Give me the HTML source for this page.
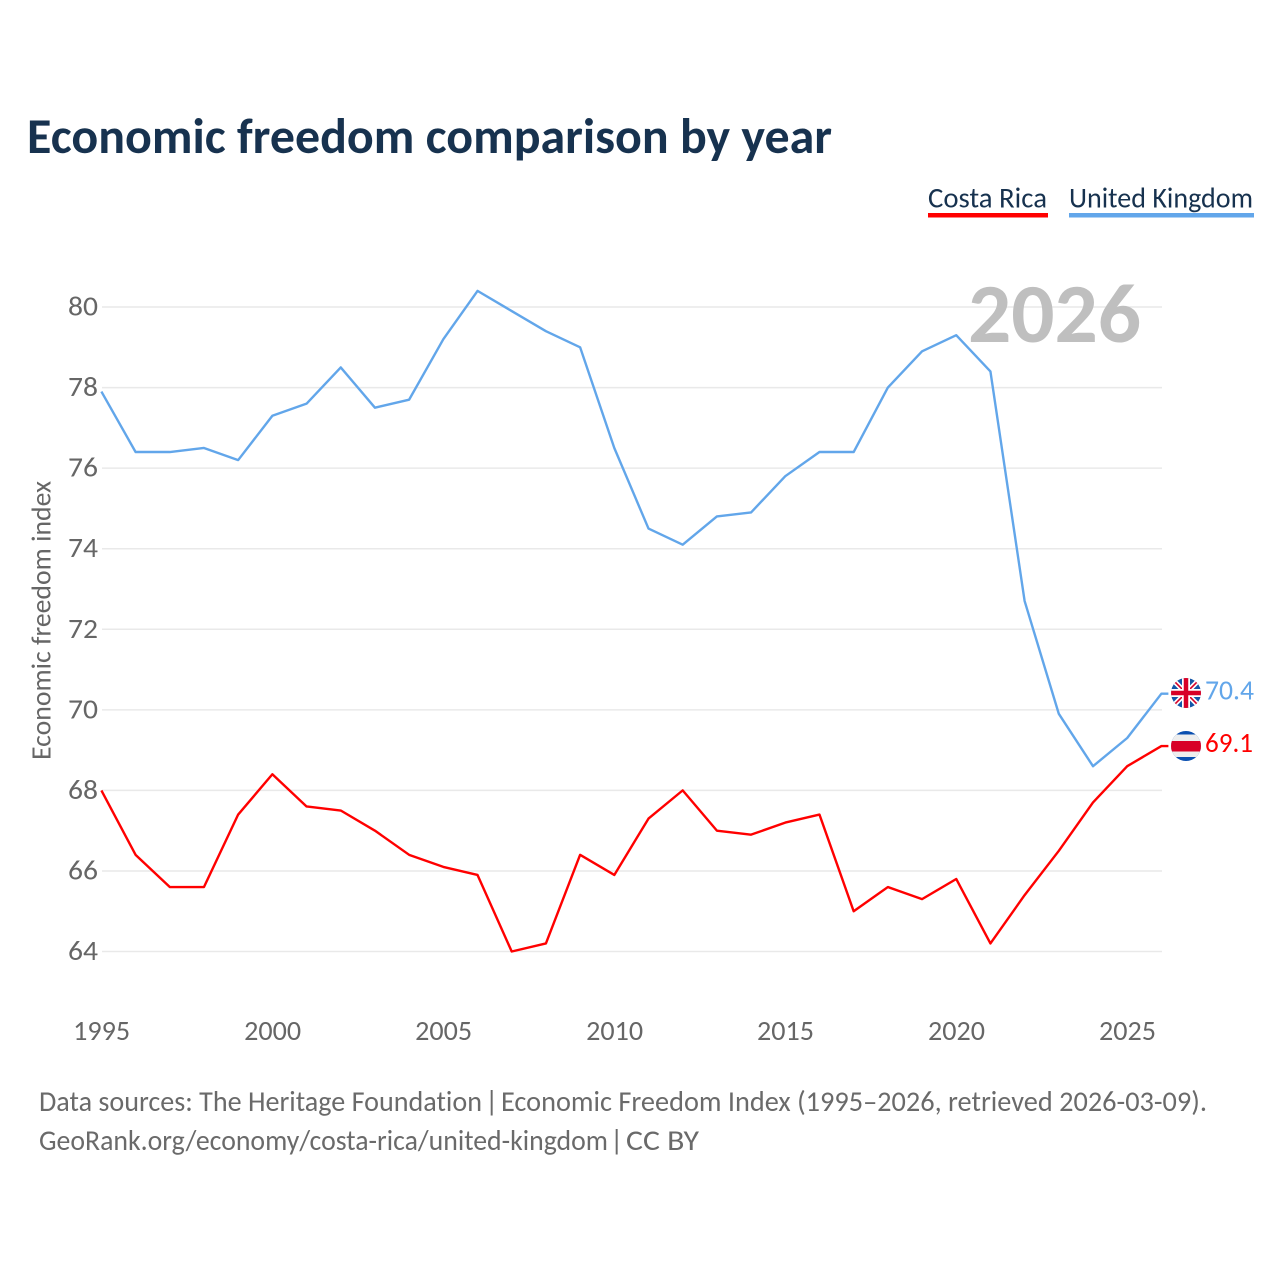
<!DOCTYPE html>
<html lang="en">
<head>
<meta charset="utf-8">
<title>Economic freedom comparison by year</title>
<style>
html,body{margin:0;padding:0;background:#fff;}
svg{display:block;font-family:"Carlito","Lato","Liberation Sans",sans-serif;font-variant-ligatures:none;}
</style>
</head>
<body>
<svg id="chart" xmlns="http://www.w3.org/2000/svg" width="1280" height="1280" viewBox="0 0 1280 1280">
  <defs>
    <clipPath id="flag-uk-clip"><circle cx="1186" cy="693" r="15"/></clipPath>
    <clipPath id="flag-cr-clip"><circle cx="1186" cy="746" r="15"/></clipPath>
  </defs>
  <rect width="1280" height="1280" fill="#ffffff"/>
  <text x="27" y="153" font-size="50" font-weight="700" fill="#17324f" textLength="805" lengthAdjust="spacingAndGlyphs">Economic freedom comparison by year</text>

  <g>
    <g>
      <text x="928" y="207.5" font-size="29" fill="#17324f" textLength="119" lengthAdjust="spacingAndGlyphs">Costa Rica</text>
      <rect x="928" y="213" width="120" height="4.5" fill="#ff0000"/>
    </g>
    <g>
      <text x="1069" y="207.5" font-size="29" fill="#17324f" textLength="184" lengthAdjust="spacingAndGlyphs">United Kingdom</text>
      <rect x="1069" y="213" width="185" height="4.5" fill="#62a6ea"/>
    </g>
  </g>

  <g id="grid"></g>
  <g id="y-ticks"></g>
  <g id="x-ticks"></g>

  <text x="968" y="342" font-size="84" font-weight="700" fill="#bfbfbf" textLength="173" lengthAdjust="spacingAndGlyphs">2026</text>
  <text transform="translate(50.5,760) rotate(-90)" x="0" y="0" font-size="28" fill="#666666" textLength="279" lengthAdjust="spacingAndGlyphs">Economic freedom index</text>

  <g id="series"></g>

  <g clip-path="url(#flag-uk-clip)">
    <rect x="1171" y="678" width="30" height="30" fill="#1456a8"/>
    <path d="M1171 678L1201 708M1201 678L1171 708" stroke="#ffffff" stroke-width="5"/>
    <path d="M1171 678L1201 708M1201 678L1171 708" stroke="#d80027" stroke-width="1.6"/>
    <path d="M1186 678V708M1171 693H1201" stroke="#ffffff" stroke-width="8"/>
    <path d="M1186 678V708M1171 693H1201" stroke="#d80027" stroke-width="4.5"/>
  </g>
  <g clip-path="url(#flag-cr-clip)">
    <rect x="1171" y="731" width="30" height="30" fill="#0a4fb0"/>
    <rect x="1171" y="734.5" width="30" height="22.5" fill="#eeeeee"/>
    <rect x="1171" y="741" width="30" height="10.5" fill="#d80027"/>
  </g>

  <g id="end-labels"></g>

  <g>
    <text x="39" y="1111" font-size="29" fill="#6a6a6a" textLength="443" lengthAdjust="spacingAndGlyphs">Data sources: The Heritage Foundation</text>
    <text x="491.7" y="1111" text-anchor="middle" font-size="29" fill="#6a6a6a">|</text>
    <text x="501" y="1111" font-size="29" fill="#6a6a6a" textLength="706" lengthAdjust="spacingAndGlyphs">Economic Freedom Index (1995–2026, retrieved 2026-03-09).</text>
    <text x="39" y="1150" font-size="29" fill="#6a6a6a" textLength="569" lengthAdjust="spacingAndGlyphs">GeoRank.org/economy/costa-rica/united-kingdom</text>
    <text x="616.7" y="1150" text-anchor="middle" font-size="29" fill="#6a6a6a">|</text>
    <text x="626" y="1150" font-size="29" fill="#6a6a6a" textLength="73" lengthAdjust="spacingAndGlyphs">CC BY</text>
  </g>
</svg>
<script>
const years = [1995,1996,1997,1998,1999,2000,2001,2002,2003,2004,2005,2006,2007,2008,2009,2010,2011,2012,2013,2014,2015,2016,2017,2018,2019,2020,2021,2022,2023,2024,2025,2026];
const unitedKingdom = [77.9,76.4,76.4,76.5,76.2,77.3,77.6,78.5,77.5,77.7,79.2,80.4,79.9,79.4,79.0,76.5,74.5,74.1,74.8,74.9,75.8,76.4,76.4,78.0,78.9,79.3,78.4,72.7,69.9,68.6,69.3,70.4];
const costaRica = [68.0,66.4,65.6,65.6,67.4,68.4,67.6,67.5,67.0,66.4,66.1,65.9,64.0,64.2,66.4,65.9,67.3,68.0,67.0,66.9,67.2,67.4,65.0,65.6,65.3,65.8,64.2,65.4,66.5,67.7,68.6,69.1];
const yTicks = [64,66,68,70,72,74,76,78,80];
const xTicks = [1995,2000,2005,2010,2015,2020,2025];

const NS = 'http://www.w3.org/2000/svg';
const plotLeft = 101.4, plotRight = 1161.4;
function xScale(year) {
  return plotLeft + (year - 1995) * (plotRight - plotLeft) / (2026 - 1995);
}
function yScale(value) {
  return 951.5 - (value - 64) * (951.5 - 307) / (80 - 64);
}
function make(tag, attrs, text) {
  const el = document.createElementNS(NS, tag);
  for (const k in attrs) el.setAttribute(k, attrs[k]);
  if (text !== undefined) el.textContent = text;
  return el;
}

const grid = document.getElementById('grid');
const yGroup = document.getElementById('y-ticks');
yTicks.forEach(function (t) {
  const line = make('line', {x1: 102, x2: 1162, y1: yScale(t), y2: yScale(t), stroke: '#e9e9e9', 'stroke-width': 1.5});
  
  
  grid.appendChild(line);
  const label = make('text', {x: 68, y: yScale(t) + 8.5, 'font-size': 27.5, fill: '#666666', textLength: 30, lengthAdjust: 'spacingAndGlyphs'}, String(t));
  
  
  yGroup.appendChild(label);
});

const xGroup = document.getElementById('x-ticks');
xTicks.forEach(function (t) {
  const label = make('text', {x: xScale(t) - 28.2, y: 1040, 'font-size': 27.5, fill: '#666666', textLength: 57, lengthAdjust: 'spacingAndGlyphs'}, String(t));
  
  
  xGroup.appendChild(label);
});

function linePath(values) {
  const pts = values.map(function (v, i) { return xScale(years[i]).toFixed(2) + ' ' + yScale(v).toFixed(2); });
  const last = values[values.length - 1];
  return 'M' + pts.join('L') + 'L' + (plotRight + 7) + ' ' + yScale(last).toFixed(2);
}
const seriesGroup = document.getElementById('series');
const ukLine = make('path', {d: linePath(unitedKingdom), fill: 'none', stroke: '#62a6ea', 'stroke-width': 2.4, 'stroke-linejoin': 'round'});


seriesGroup.appendChild(ukLine);
const crLine = make('path', {d: linePath(costaRica), fill: 'none', stroke: '#ff0000', 'stroke-width': 2.4, 'stroke-linejoin': 'round'});


seriesGroup.appendChild(crLine);

const labels = document.getElementById('end-labels');
const ukLabel = make('text', {x: 1205, y: yScale(unitedKingdom[unitedKingdom.length - 1]) + 6, 'font-size': 27.5, fill: '#62a6ea', textLength: 49, lengthAdjust: 'spacingAndGlyphs'}, unitedKingdom[unitedKingdom.length - 1].toFixed(1));


labels.appendChild(ukLabel);
const crLabel = make('text', {x: 1205, y: yScale(costaRica[costaRica.length - 1]) + 6, 'font-size': 27.5, fill: '#ff0000', textLength: 48, lengthAdjust: 'spacingAndGlyphs'}, costaRica[costaRica.length - 1].toFixed(1));


labels.appendChild(crLabel);
</script>
</body>
</html>
